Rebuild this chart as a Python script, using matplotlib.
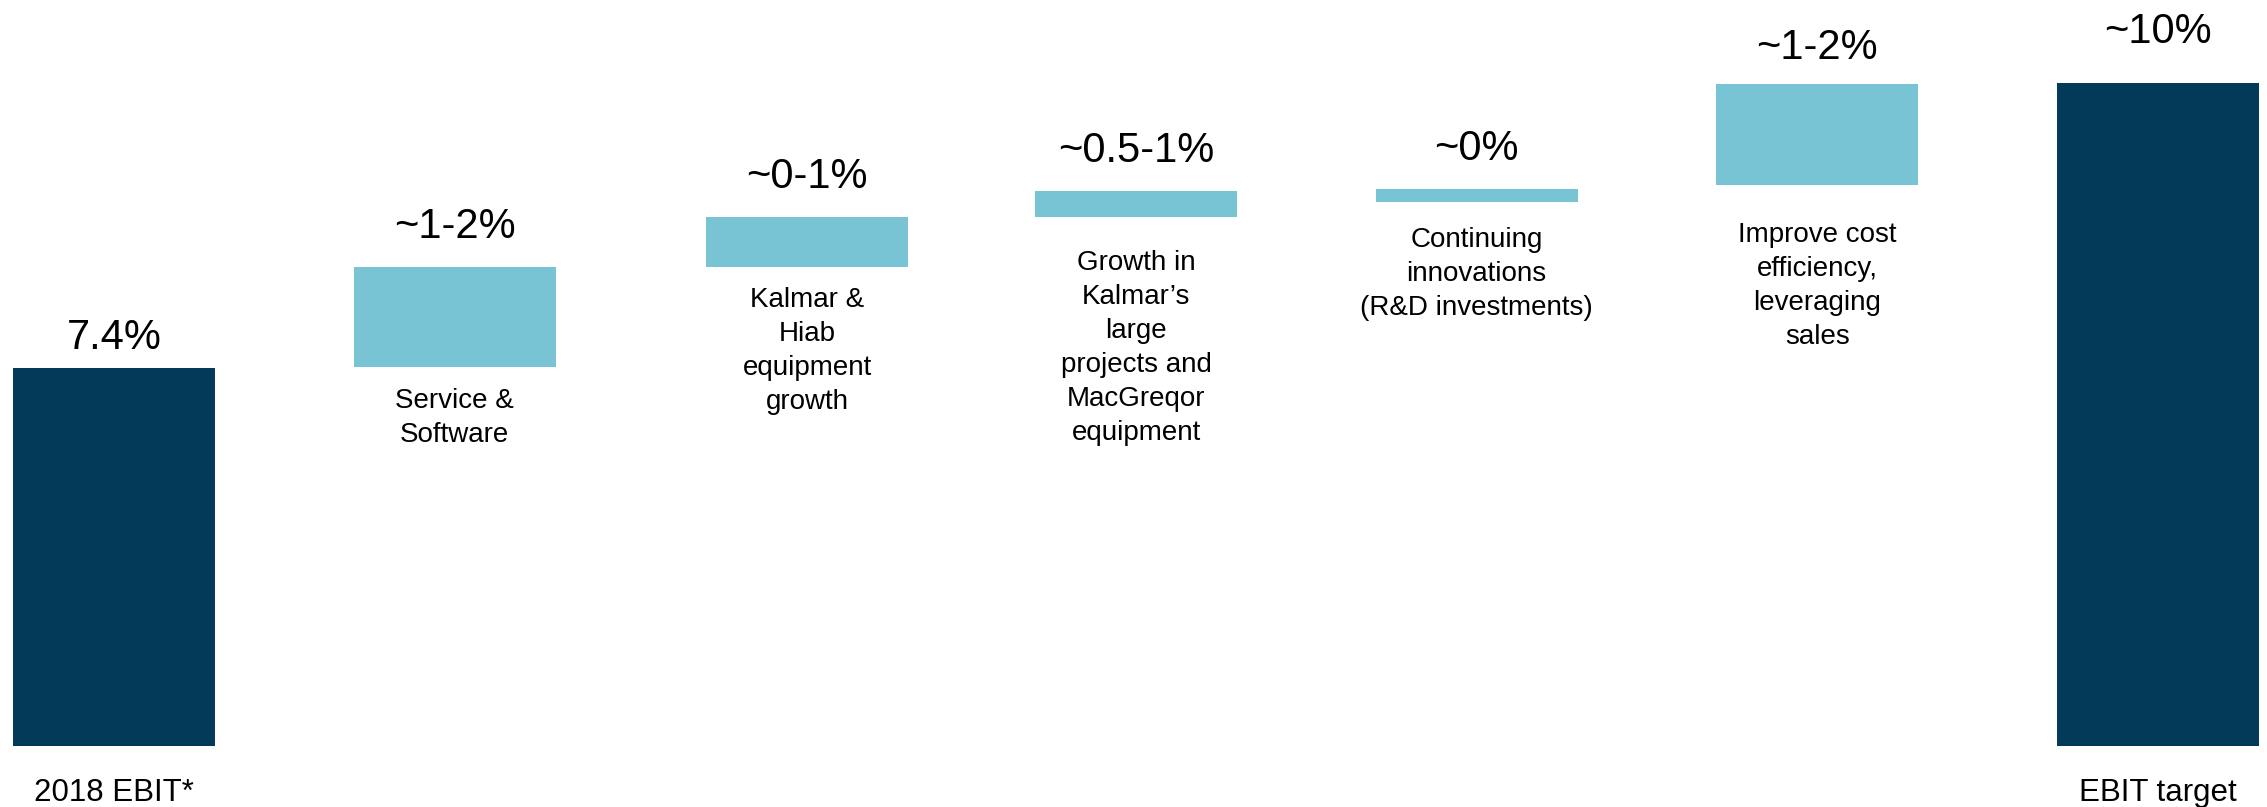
import matplotlib
matplotlib.use("Agg")
import matplotlib.pyplot as plt
from matplotlib.patches import Rectangle

# ---------------- data ----------------
categories = [
    "2018 EBIT*",
    "Service &\nSoftware",
    "Kalmar &\nHiab\nequipment\ngrowth",
    "Growth in\nKalmar\u2019s\nlarge\nprojects and\nMacGreqor\nequipment",
    "Continuing\ninnovations\n(R&D investments)",
    "Improve cost\nefficiency,\nleveraging\nsales",
    "EBIT target",
]
value_labels = ["7.4%", "~1-2%", "~0-1%", "~0.5-1%", "~0%", "~1-2%", "~10%"]
bar_bottom = [0.0, 7.41, 9.37, 10.36, 10.66, 10.99, 0.0]
bar_top = [7.40, 9.38, 10.36, 10.87, 10.91, 12.96, 12.98]
is_total = [True, False, False, False, False, False, True]

# ---------------- layout / style ----------------
plt.rcParams['font.family'] = ['Liberation Sans', 'DejaVu Sans']
W, H, DPI = 2267, 807, 100
PX_X = 340.67          # pixels per category slot
X0_PX = 114            # pixel centre of first bar
PX_Y = 51.04           # pixels per value unit
Y0_PX = 807 - 745.7    # pixel height of baseline above figure bottom
slot_pos = [0, 1, 2.035, 3, 4, 5, 6]
bar_w = 202 / PX_X
dark = "#033A5A"
light = "#78C4D4"
pt = 72 / DPI

value_gap_px = [19, 29, 29, 29.3, 29, 25, 40.7]
cat_gap_px = [None, 20.6, 20, 33, 25, 37, None]

fig = plt.figure(figsize=(W / DPI, H / DPI), dpi=DPI)
ax = fig.add_axes([0, 0, 1, 1])
ax.set_xlim(-X0_PX / PX_X, (W - X0_PX) / PX_X)
ax.set_ylim(-Y0_PX / PX_Y, (H - Y0_PX) / PX_Y)
ax.axis('off')

for i in range(len(categories)):
    x = slot_pos[i]
    b, t = bar_bottom[i], bar_top[i]
    ax.bar(x, t - b, bottom=b, width=bar_w,
           color=dark if is_total[i] else light, linewidth=0)
    # value label
    ax.annotate(value_labels[i], xy=(x, t), xytext=(0, value_gap_px[i] * pt),
                textcoords='offset points', ha='center', va='baseline',
                fontsize=30, color='black')
    # category label
    if is_total[i]:
        ax.annotate(categories[i], xy=(x, 0), xytext=(0, -55.3 * pt),
                    textcoords='offset points', ha='center', va='baseline',
                    fontsize=22.5, color='black')
    else:
        ax.annotate(categories[i], xy=(x, b), xytext=(0, -cat_gap_px[i] * pt),
                    textcoords='offset points', ha='center', va='top',
                    fontsize=20, color='black', linespacing=1.4,
                    multialignment='center')

fig.savefig("out.png", dpi=DPI)
